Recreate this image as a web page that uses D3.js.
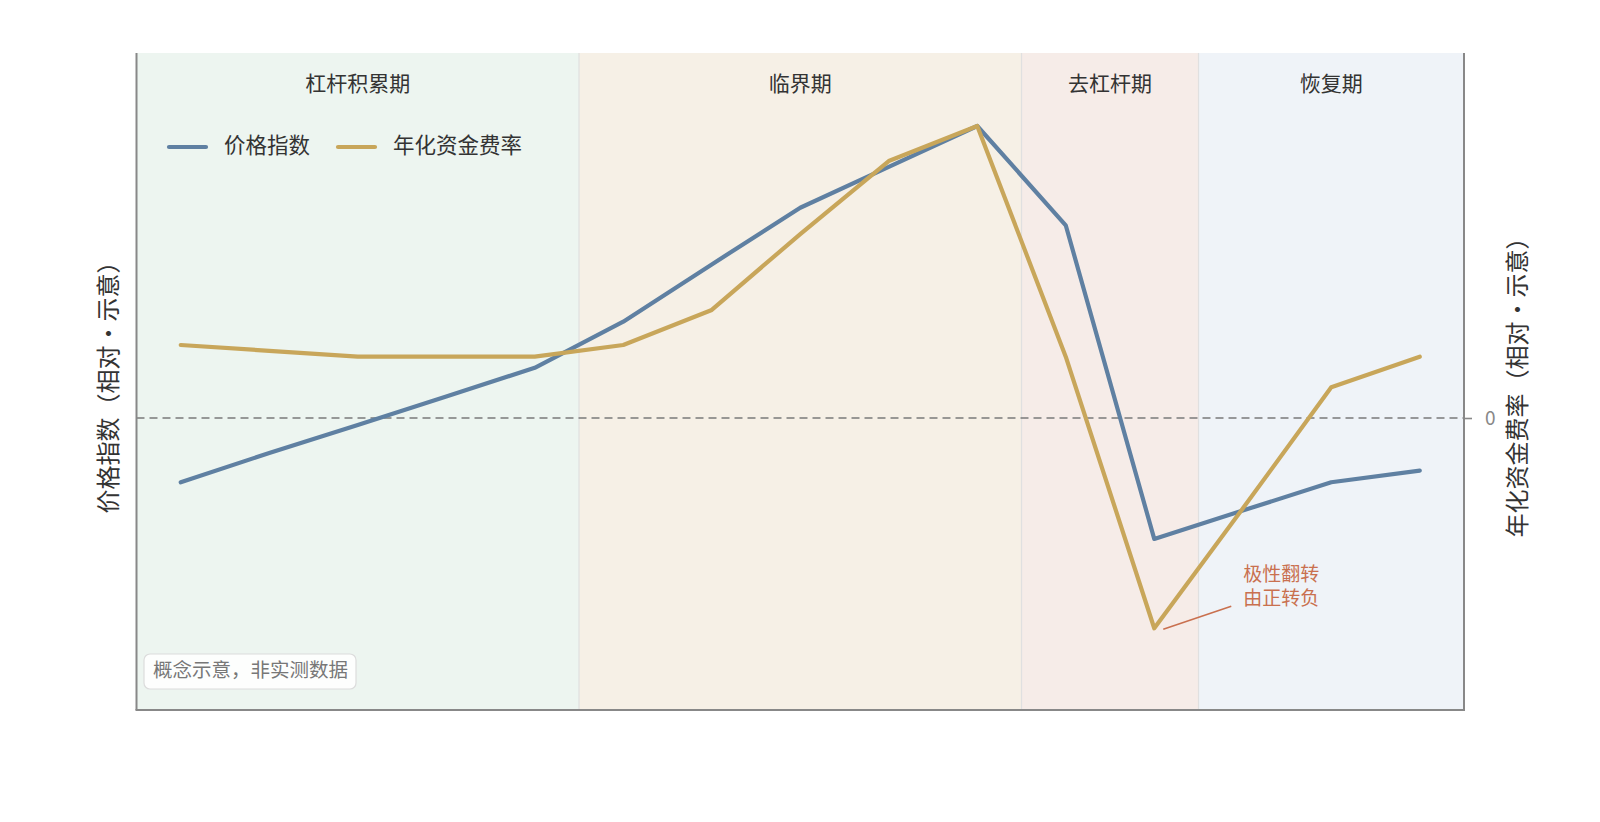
<!DOCTYPE html>
<html>
<head>
<meta charset="utf-8">
<script src="https://cdn.jsdelivr.net/npm/d3@7"></script>
<style>
  body { margin: 0; background: #fff; }
  text { font-family: "Noto Sans CJK SC", "Noto Sans", sans-serif; }
</style>
</head>
<body>
<svg id="chart" width="1600" height="822"></svg>
<script>
// periods 0..14, two relative series (concept only)
const periods = d3.range(15);
const priceIndex = [-0.22, -0.12, -0.024, 0.074, 0.172, 0.33, 0.526, 0.72, 0.86, 1.0, 0.66, -0.414, -0.317, -0.22, -0.18];
const fundingRate = [0.25, 0.23, 0.21, 0.21, 0.21, 0.25, 0.37, 0.63, 0.88, 1.0, 0.21, -0.72, -0.31, 0.105, 0.21];

const phaseNames = ['杠杆积累期', '临界期', '去杠杆期', '恢复期'];
const phaseStart = [0, 5, 10, 12];
const phaseEnd = [4, 9, 11, 14];
const phaseColors = ['#edf5f0', '#f6f0e6', '#f6ece8', '#eff3f8'];

const rightTicks = [0];

const margin = { left: 136.5, right: 136, top: 53, bottom: 112 };
const W = 1600, H = 822;
const svg = d3.select('#chart');

const x = d3.scaleBand().domain(periods)
  .range([margin.left, W - margin.right]).padding(0);
const xc = (i) => x(i) + x.bandwidth() / 2;

const yL = d3.scaleLinear().domain([-1, 1.25]).range([H - margin.bottom, margin.top]);
const yR = d3.scaleLinear().domain([-1, 1.25]).range([H - margin.bottom, margin.top]);

// phase backgrounds
const phases = phaseNames.map((name, i) => ({
  name, x0: x(phaseStart[i]), x1: x(phaseEnd[i]) + x.bandwidth(), fill: phaseColors[i]
}));

svg.append('g').selectAll('rect').data(phases).join('rect')
  .attr('x', (d) => d.x0)
  .attr('y', margin.top)
  .attr('width', (d) => d.x1 - d.x0)
  .attr('height', H - margin.bottom - margin.top)
  .attr('fill', (d) => d.fill);

svg.append('g').selectAll('line').data(phases.slice(1)).join('line')
  .attr('x1', (d) => d.x0).attr('x2', (d) => d.x0)
  .attr('y1', margin.top).attr('y2', H - margin.bottom)
  .attr('stroke', '#e0e0e0').attr('stroke-width', 1.2);

svg.append('g').selectAll('text').data(phases).join('text')
  .attr('x', (d) => (d.x0 + d.x1) / 2)
  .attr('y', 85)
  .attr('text-anchor', 'middle')
  .attr('dominant-baseline', 'middle')
  .attr('font-size', 21)
  .attr('fill', '#333')
  .text((d) => d.name);

// zero reference line
svg.append('line')
  .attr('x1', margin.left).attr('x2', W - margin.right)
  .attr('y1', yR(0)).attr('y2', yR(0))
  .attr('stroke', '#7a7a7a').attr('stroke-width', 1.6)
  .attr('stroke-dasharray', '8,5');

// series
const line = (scale) => d3.line().x((d, i) => xc(i)).y((d) => scale(d));

svg.append('path').datum(priceIndex)
  .attr('d', line(yL))
  .attr('fill', 'none').attr('stroke', '#5f80a2')
  .attr('stroke-width', 4.2).attr('stroke-linejoin', 'round').attr('stroke-linecap', 'round');

svg.append('path').datum(fundingRate)
  .attr('d', line(yR))
  .attr('fill', 'none').attr('stroke', '#c8a65a')
  .attr('stroke-width', 4.2).attr('stroke-linejoin', 'round').attr('stroke-linecap', 'round');

// spines
const spine = svg.append('g').attr('stroke', '#888').attr('stroke-width', 2);
spine.append('line').attr('x1', margin.left).attr('x2', margin.left)
  .attr('y1', margin.top).attr('y2', H - margin.bottom);
spine.append('line').attr('x1', W - margin.right).attr('x2', W - margin.right)
  .attr('y1', margin.top).attr('y2', H - margin.bottom);
spine.append('line').attr('x1', margin.left - 1).attr('x2', W - margin.right + 1)
  .attr('y1', H - margin.bottom).attr('y2', H - margin.bottom);

// right axis (only zero tick)
const rAxis = svg.append('g')
  .attr('transform', `translate(${W - margin.right},0)`)
  .call(d3.axisRight(yR).tickValues(rightTicks).tickFormat(d3.format('d'))
    .tickSize(8).tickPadding(13));
rAxis.select('.domain').remove();
rAxis.selectAll('.tick line').attr('stroke', '#888').attr('stroke-width', 1.6);
rAxis.selectAll('.tick text').attr('fill', '#888').attr('font-size', 19)
  .style('font-family', '"Noto Sans CJK SC", sans-serif');

// axis titles
const midY = (margin.top + H - margin.bottom) / 2;
svg.append('text')
  .attr('transform', `translate(110,${midY}) rotate(-90)`)
  .attr('text-anchor', 'middle').attr('dominant-baseline', 'middle')
  .attr('font-size', 24).attr('fill', '#333')
  .text('价格指数（相对・示意）');
svg.append('text')
  .attr('transform', `translate(1519,${midY}) rotate(-90)`)
  .attr('text-anchor', 'middle').attr('dominant-baseline', 'middle')
  .attr('font-size', 24).attr('fill', '#333')
  .text('年化资金费率（相对・示意）');

// legend
const legendItems = [
  { label: '价格指数', color: '#5f80a2', x: 169 },
  { label: '年化资金费率', color: '#c8a65a', x: 338 }
];
const lg = svg.append('g').selectAll('g').data(legendItems).join('g')
  .attr('transform', (d) => `translate(${d.x},147)`);
lg.append('line').attr('x1', 0).attr('x2', 37)
  .attr('stroke', (d) => d.color).attr('stroke-width', 4.2).attr('stroke-linecap', 'round');
lg.append('text').attr('x', 55).attr('dominant-baseline', 'middle')
  .attr('font-size', 21.5).attr('fill', '#333').text((d) => d.label);

// annotation at funding trough
const trough = d3.minIndex(fundingRate);
const tx = xc(trough), ty = yR(fundingRate[trough]);
svg.append('line')
  .attr('x1', tx + 9).attr('y1', ty + 1)
  .attr('x2', tx + 77).attr('y2', ty - 22)
  .attr('stroke', '#c9704f').attr('stroke-width', 1.6);
svg.append('text')
  .attr('x', tx + 89).attr('y', ty - 52)
  .attr('font-size', 19).attr('fill', '#c9704f')
  .attr('dominant-baseline', 'middle')
  .selectAll('tspan').data(['极性翻转', '由正转负']).join('tspan')
  .attr('x', tx + 89).attr('dy', (d, i) => i ? 24 : 0)
  .text((d) => d);

// note box
const note = svg.append('g').attr('transform', 'translate(144,654)');
note.append('rect').attr('width', 212).attr('height', 35).attr('rx', 6)
  .attr('fill', '#fff').attr('fill-opacity', 0.85)
  .attr('stroke', '#dcdcdc').attr('stroke-width', 1.2);
note.append('text').attr('x', 9).attr('y', 18).attr('dominant-baseline', 'middle')
  .attr('font-size', 19.5).attr('fill', '#777').text('概念示意，非实测数据');
</script>
</body>
</html>
